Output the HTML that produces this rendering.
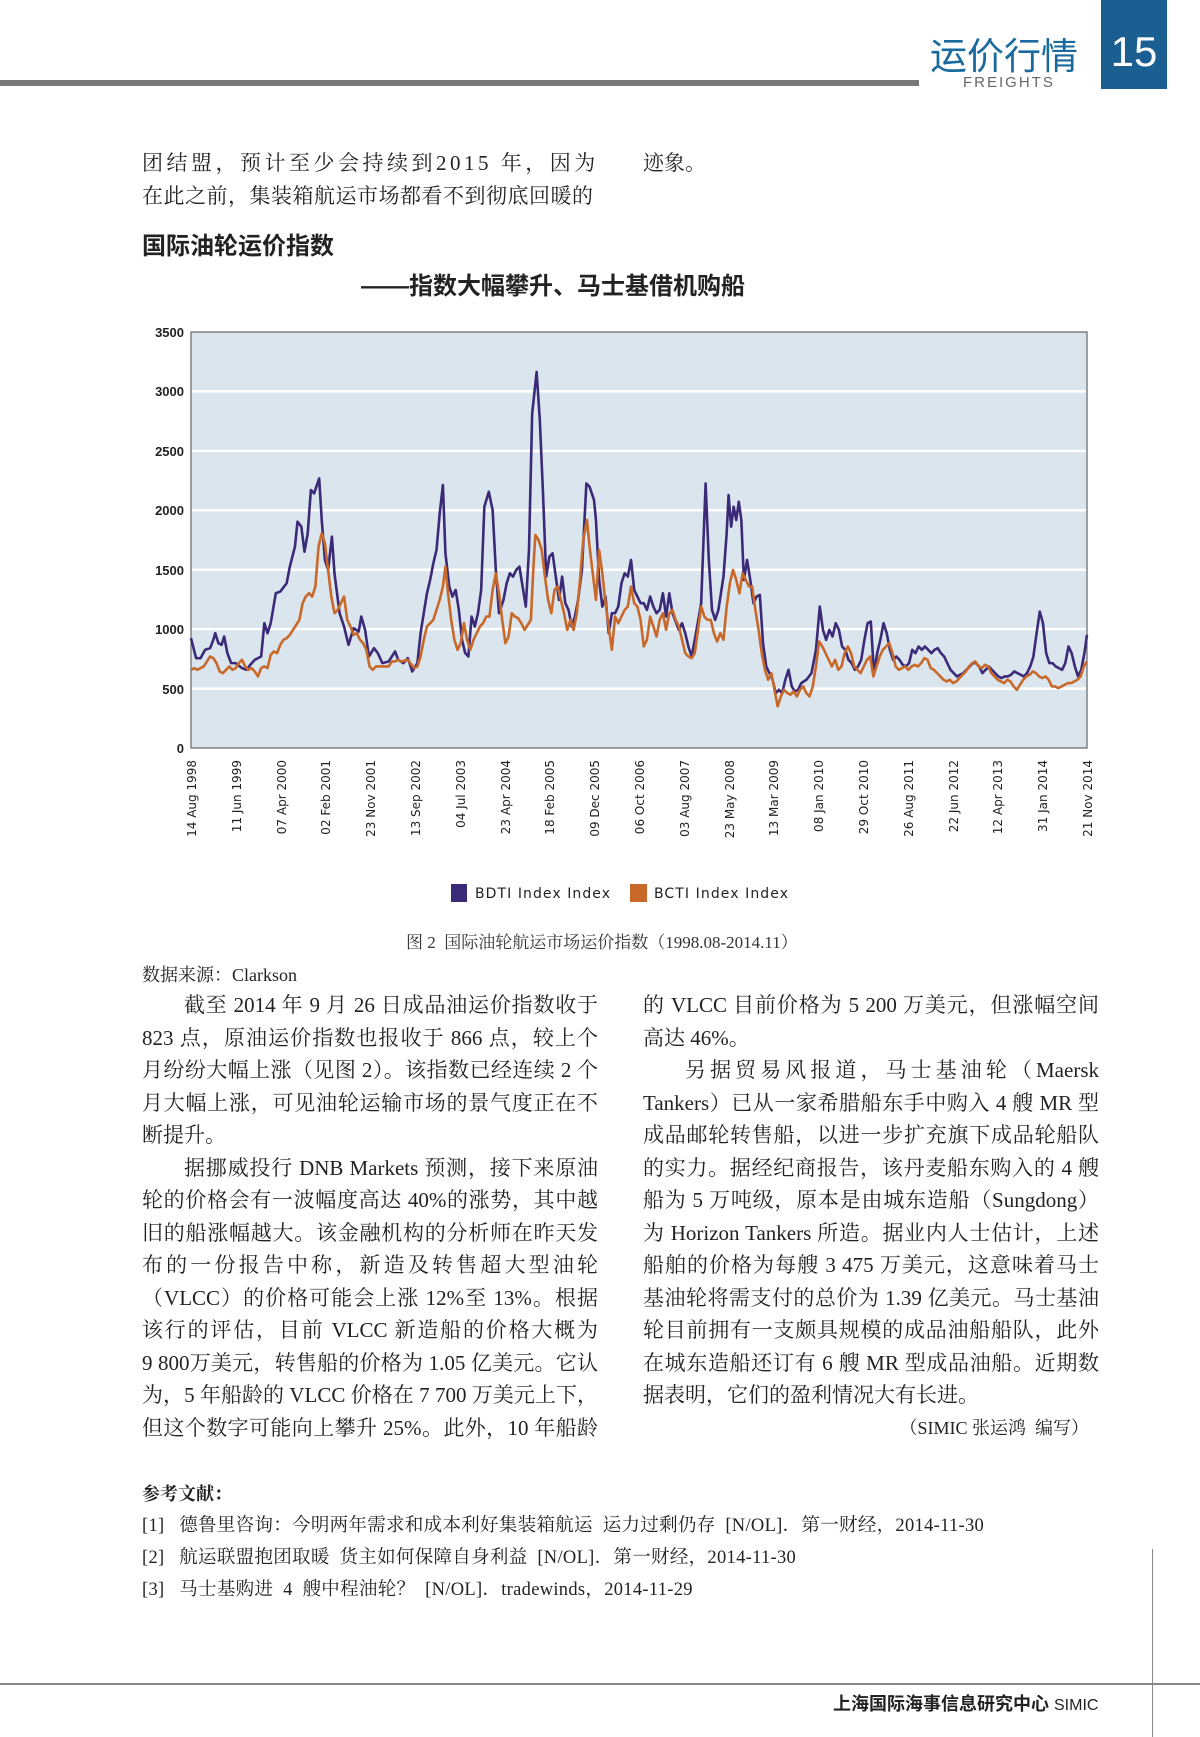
<!DOCTYPE html>
<html><head><meta charset="utf-8">
<style>
body{margin:0;width:1200px;height:1737px;background:#fff;position:relative;overflow:hidden;font-family:"Liberation Serif","Noto Serif CJK SC",serif;color:#222}
.a{position:absolute;white-space:nowrap}
.p{font-size:21px;letter-spacing:0}
.col{position:absolute;width:456px;font-size:21px;line-height:32.5px}
.col div{text-align:justify;text-align-last:justify;white-space:nowrap;height:32.5px}
.col div.l{text-align-last:left}
.col div.i{padding-left:42px}
</style></head><body>
<div class="a" style="left:0;top:80px;width:919px;height:6px;background:#777"></div>
<div class="a" style="left:930px;top:26px;font-family:'Liberation Sans','Noto Sans CJK SC',sans-serif;font-size:37px;color:#1a6a9e;letter-spacing:0px">运价行情</div>
<div class="a" style="left:963px;top:74px;font-family:'Liberation Sans',sans-serif;font-size:15px;color:#666;letter-spacing:2px">FREIGHTS</div>
<div class="a" style="left:1101px;top:0;width:66px;height:89px;background:#1b5f92;color:#fff;font-family:'Liberation Sans',sans-serif;font-size:42px;text-align:center;line-height:104px">15</div>

<div class="a p" style="left:142px;top:147px;letter-spacing:3.5px">团结盟，预计至少会持续到2015 年，因为</div>
<div class="a p" style="left:643px;top:147px">迹象。</div>
<div class="a p" style="left:142px;top:180px;letter-spacing:0.5px">在此之前，集装箱航运市场都看不到彻底回暖的</div>
<div class="a" style="left:142px;top:226px;font-size:24px;font-weight:bold;font-family:'Liberation Sans','Noto Sans CJK SC',sans-serif">国际油轮运价指数</div>
<div class="a" style="left:361px;top:266px;font-size:24px;font-weight:bold;font-family:'Liberation Sans','Noto Sans CJK SC',sans-serif">——指数大幅攀升、马士基借机购船</div>

<svg class="a" style="left:0;top:0" width="1200" height="960">
<rect x="191" y="332" width="896" height="416" fill="#dbe5ee" stroke="#666" stroke-width="1.2"/>
<g stroke="#fff" stroke-width="2.5">
<line x1="192" x2="1086" y1="391.4" y2="391.4"/><line x1="192" x2="1086" y1="450.9" y2="450.9"/><line x1="192" x2="1086" y1="510.3" y2="510.3"/><line x1="192" x2="1086" y1="569.7" y2="569.7"/><line x1="192" x2="1086" y1="629.1" y2="629.1"/><line x1="192" x2="1086" y1="688.6" y2="688.6"/>
</g>
<g font-family="'Liberation Sans',sans-serif" font-weight="bold" font-size="13" text-anchor="end" fill="#222">
<text x="184" y="337">3500</text><text x="184" y="396">3000</text><text x="184" y="456">2500</text><text x="184" y="515">2000</text><text x="184" y="575">1500</text><text x="184" y="634">1000</text><text x="184" y="694">500</text><text x="184" y="753">0</text>
</g>
<g transform="translate(191,332) scale(0.6377,0.3328) translate(-95,-35)" fill="none" stroke-linejoin="round">
<polyline vector-effect="non-scaling-stroke" stroke="#3a2a78" stroke-width="2.6" points="95,955 103,1015 110,1015 117,990 125,985 130,960 133,940 138,970 143,975 147,950 152,1000 158,1030 165,1030 175,1045 182,1050 188,1035 195,1020 205,1010 210,910 215,940 220,910 228,820 235,815 245,790 250,740 258,680 262,605 268,620 273,695 278,640 283,510 288,520 296,475 300,600 305,720 310,750 316,650 320,760 328,880 335,920 342,975 350,925 358,935 362,890 368,930 374,1010 382,985 388,1000 395,1030 405,1025 415,995 420,1020 428,1030 435,1015 442,1055 450,1030 455,940 460,880 465,820 470,780 475,730 480,690 485,580 490,495 494,700 500,800 505,830 510,810 515,870 520,960 525,1000 530,1010 535,890 540,920 545,880 550,810 555,560 562,515 568,570 573,750 578,880 585,840 590,790 595,760 600,770 605,750 610,740 615,800 620,860 625,690 630,280 637,155 642,300 647,520 652,770 657,710 662,700 667,770 672,840 677,770 682,850 687,870 692,920 697,890 702,840 708,750 715,490 720,500 727,540 730,600 735,780 740,860 745,830 750,940 755,880 760,880 765,860 770,790 775,760 780,770 785,720 790,810 795,830 800,850 805,850 810,870 815,830 820,860 825,880 830,870 835,820 840,890 845,820 850,880 855,905 860,930 865,910 870,940 875,980 880,1010 885,960 890,905 895,850 902,490 907,720 912,870 917,900 922,870 930,770 935,640 938,525 942,620 946,560 950,600 954,545 958,600 962,780 967,720 972,780 977,850 982,830 987,825 992,970 997,1040 1002,1060 1007,1080 1012,1120 1017,1110 1022,1120 1027,1080 1032,1050 1037,1100 1042,1115 1047,1110 1052,1090 1060,1080 1068,1060 1075,990 1081,860 1086,930 1091,960 1096,930 1101,950 1106,910 1111,930 1116,980 1121,990 1126,1020 1131,1030 1136,1050 1141,1040 1146,1020 1151,960 1156,910 1161,905 1166,1060 1171,1000 1176,960 1181,910 1186,940 1191,990 1196,1020 1201,1010 1206,1020 1211,1035 1216,1040 1221,1030 1226,990 1231,1000 1236,980 1241,990 1246,980 1251,990 1256,1000 1261,990 1266,985 1271,1000 1276,1010 1281,1030 1286,1050 1291,1060 1296,1070 1301,1065 1306,1060 1311,1050 1316,1040 1321,1030 1326,1030 1331,1040 1336,1060 1341,1050 1346,1040 1351,1050 1356,1060 1361,1070 1366,1075 1371,1070 1376,1070 1381,1065 1386,1055 1391,1060 1396,1065 1401,1070 1406,1060 1411,1040 1416,1010 1421,940 1426,875 1431,910 1436,1000 1441,1030 1446,1030 1451,1040 1456,1045 1461,1050 1466,1030 1471,980 1476,1000 1481,1040 1486,1070 1491,1050 1496,1000 1500,945"/>
<polyline vector-effect="non-scaling-stroke" stroke="#c8692a" stroke-width="2.6" points="95,1050 100,1045 105,1050 110,1045 115,1040 120,1025 125,1010 130,1015 135,1030 140,1055 145,1060 150,1050 155,1040 160,1050 165,1045 170,1030 175,1020 180,1040 185,1050 190,1045 195,1055 200,1070 205,1045 210,1040 215,1045 220,1005 225,995 230,1000 235,975 240,960 245,955 250,945 255,930 260,915 265,900 270,850 275,830 280,820 285,830 290,800 295,680 300,640 305,670 310,750 315,830 320,880 325,870 330,850 335,830 340,900 345,920 350,945 355,940 360,960 365,970 370,990 375,1040 380,1050 385,1040 395,1040 405,1040 410,1025 415,1025 420,1020 425,1025 435,1020 445,1045 450,1040 455,1010 460,960 465,920 470,910 475,900 480,870 485,840 490,800 494,740 498,820 503,900 508,960 513,990 518,970 523,910 528,960 533,990 538,960 543,940 548,920 553,910 558,890 563,890 568,810 573,760 578,820 583,900 588,970 593,950 598,880 603,890 608,895 613,910 618,930 623,915 628,900 632,740 635,645 640,660 645,690 650,770 655,840 660,880 665,810 670,800 675,840 680,880 685,930 690,900 695,930 700,880 705,780 710,660 716,600 720,680 725,760 730,840 735,690 740,760 745,850 750,920 755,990 760,890 765,910 770,890 775,870 780,860 785,800 790,850 795,860 800,900 805,980 810,960 815,890 820,920 825,950 830,900 835,880 840,930 845,880 850,870 855,900 860,920 865,960 870,1000 875,1010 880,1015 885,1000 890,930 895,860 900,890 905,900 910,900 915,940 920,965 925,940 930,960 935,860 940,790 945,750 950,780 955,820 960,760 965,780 970,800 975,800 980,870 985,930 990,1000 995,1050 1000,1080 1005,1060 1010,1110 1015,1160 1020,1130 1025,1110 1030,1120 1035,1125 1040,1115 1045,1130 1050,1110 1055,1100 1060,1120 1065,1130 1070,1100 1075,1040 1080,965 1085,980 1090,1000 1095,1020 1100,1040 1105,1020 1110,1050 1115,1040 1120,1000 1125,980 1130,1000 1135,1040 1140,1050 1145,1060 1150,1040 1155,1020 1160,1010 1165,1070 1170,1040 1175,1010 1180,990 1185,980 1190,970 1195,1000 1200,1040 1205,1050 1210,1045 1215,1040 1220,1050 1225,1040 1230,1035 1235,1040 1240,1030 1245,1015 1250,1020 1255,1045 1260,1050 1265,1060 1270,1070 1275,1080 1280,1085 1285,1080 1290,1090 1295,1085 1300,1075 1305,1065 1310,1055 1315,1040 1320,1030 1325,1025 1330,1040 1335,1045 1340,1035 1345,1040 1350,1060 1355,1070 1360,1080 1365,1085 1370,1090 1375,1080 1380,1085 1385,1100 1390,1110 1395,1095 1400,1080 1405,1070 1410,1065 1415,1055 1420,1060 1425,1070 1430,1075 1435,1070 1440,1080 1445,1100 1450,1100 1455,1105 1460,1100 1465,1095 1470,1090 1475,1090 1480,1085 1485,1080 1490,1070 1495,1040 1500,1025"/>
</g>
<g font-family="'DejaVu Sans',sans-serif" font-size="12" fill="#222" text-anchor="end">
<text transform="translate(196,760) rotate(-90)">14 Aug 1998</text>
<text transform="translate(241,760) rotate(-90)">11 Jun 1999</text>
<text transform="translate(286,760) rotate(-90)">07 Apr 2000</text>
<text transform="translate(330,760) rotate(-90)">02 Feb 2001</text>
<text transform="translate(375,760) rotate(-90)">23 Nov 2001</text>
<text transform="translate(420,760) rotate(-90)">13 Sep 2002</text>
<text transform="translate(465,760) rotate(-90)">04 Jul 2003</text>
<text transform="translate(510,760) rotate(-90)">23 Apr 2004</text>
<text transform="translate(554,760) rotate(-90)">18 Feb 2005</text>
<text transform="translate(599,760) rotate(-90)">09 Dec 2005</text>
<text transform="translate(644,760) rotate(-90)">06 Oct 2006</text>
<text transform="translate(689,760) rotate(-90)">03 Aug 2007</text>
<text transform="translate(734,760) rotate(-90)">23 May 2008</text>
<text transform="translate(778,760) rotate(-90)">13 Mar 2009</text>
<text transform="translate(823,760) rotate(-90)">08 Jan 2010</text>
<text transform="translate(868,760) rotate(-90)">29 Oct 2010</text>
<text transform="translate(913,760) rotate(-90)">26 Aug 2011</text>
<text transform="translate(958,760) rotate(-90)">22 Jun 2012</text>
<text transform="translate(1002,760) rotate(-90)">12 Apr 2013</text>
<text transform="translate(1047,760) rotate(-90)">31 Jan 2014</text>
<text transform="translate(1092,760) rotate(-90)">21 Nov 2014</text>
</g>
<rect x="451" y="884" width="16" height="18" fill="#3a2a78"/>
<rect x="630" y="884" width="17" height="18" fill="#c8692a"/>
<g font-family="'DejaVu Sans',sans-serif" font-size="14" fill="#222">
<text x="475" y="898" textLength="135">BDTI Index Index</text>
<text x="654" y="898" textLength="134">BCTI Index Index</text>
</g>
</svg>

<div class="a" style="left:406px;top:928px;font-size:17px;color:#333">图 2&nbsp; 国际油轮航运市场运价指数（1998.08-2014.11）</div>
<div class="a" style="left:142px;top:961px;font-size:18px">数据来源：Clarkson</div>

<div class="col" style="left:142px;top:989px">
<div class="i">截至 2014 年 9 月 26 日成品油运价指数收于</div>
<div>823 点，原油运价指数也报收于 866 点，较上个</div>
<div>月纷纷大幅上涨（见图 2）。该指数已经连续 2 个</div>
<div>月大幅上涨，可见油轮运输市场的景气度正在不</div>
<div class="l">断提升。</div>
<div class="i">据挪威投行 DNB Markets 预测，接下来原油</div>
<div>轮的价格会有一波幅度高达 40%的涨势，其中越</div>
<div>旧的船涨幅越大。该金融机构的分析师在昨天发</div>
<div>布的一份报告中称，新造及转售超大型油轮</div>
<div>（VLCC）的价格可能会上涨 12%至 13%。根据</div>
<div>该行的评估，目前 VLCC 新造船的价格大概为</div>
<div>9 800万美元，转售船的价格为 1.05 亿美元。它认</div>
<div>为，5 年船龄的 VLCC 价格在 7 700 万美元上下，</div>
<div>但这个数字可能向上攀升 25%。此外，10 年船龄</div>
</div>
<div class="col" style="left:643px;top:989px">
<div>的 VLCC 目前价格为 5 200 万美元，但涨幅空间</div>
<div class="l">高达 46%。</div>
<div class="i">另据贸易风报道，马士基油轮（Maersk</div>
<div>Tankers）已从一家希腊船东手中购入 4 艘 MR 型</div>
<div>成品邮轮转售船，以进一步扩充旗下成品轮船队</div>
<div>的实力。据经纪商报告，该丹麦船东购入的 4 艘</div>
<div>船为 5 万吨级，原本是由城东造船（Sungdong）</div>
<div>为 Horizon Tankers 所造。据业内人士估计，上述</div>
<div>船舶的价格为每艘 3 475 万美元，这意味着马士</div>
<div>基油轮将需支付的总价为 1.39 亿美元。马士基油</div>
<div>轮目前拥有一支颇具规模的成品油船船队，此外</div>
<div>在城东造船还订有 6 艘 MR 型成品油船。近期数</div>
<div class="l">据表明，它们的盈利情况大有长进。</div>
<div style="text-align:right;text-align-last:right;font-size:18px;padding-right:10px">（SIMIC 张运鸿&nbsp; 编写）</div>
</div>

<div class="a" style="left:142px;top:1480px;font-size:18px;font-weight:bold">参考文献：</div>
<div class="a" style="left:142px;top:1511px;font-size:18.5px;letter-spacing:0.3px">[1]&nbsp;&nbsp; 德鲁里咨询：今明两年需求和成本利好集装箱航运&nbsp; 运力过剩仍存&nbsp; [N/OL]．第一财经，2014-11-30</div>
<div class="a" style="left:142px;top:1543px;font-size:18.5px;letter-spacing:0.3px">[2]&nbsp;&nbsp; 航运联盟抱团取暖&nbsp; 货主如何保障自身利益&nbsp; [N/OL]．第一财经，2014-11-30</div>
<div class="a" style="left:142px;top:1575px;font-size:18.5px;letter-spacing:0.3px">[3]&nbsp;&nbsp; 马士基购进&nbsp; 4&nbsp; 艘中程油轮？&nbsp; [N/OL]．tradewinds，2014-11-29</div>

<div class="a" style="left:0;top:1683px;width:1200px;height:2px;background:#888"></div>
<div class="a" style="left:1152px;top:1549px;width:1px;height:188px;background:#888"></div>
<div class="a" style="left:833px;top:1690px;font-size:18px;font-weight:bold;font-family:'Liberation Sans','Noto Sans CJK SC',sans-serif">上海国际海事信息研究中心 <span style="font-weight:normal;font-size:16px">SIMIC</span></div>
</body></html>
